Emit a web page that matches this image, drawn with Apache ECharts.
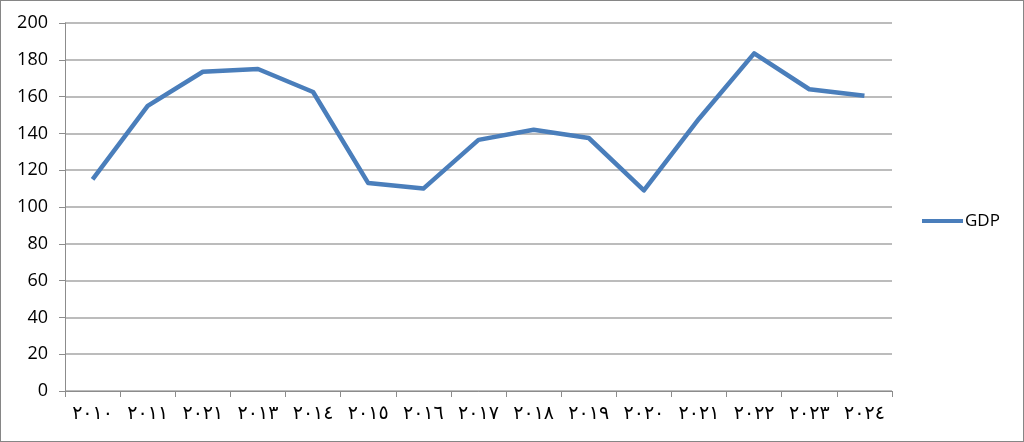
<!DOCTYPE html>
<html><head><meta charset="utf-8">
<script src="https://cdn.jsdelivr.net/npm/echarts@6/dist/echarts.min.js"></script>
<style>
html,body{margin:0;padding:0;background:#fff;}
#c{width:1024px;height:442px;box-sizing:border-box;border:1px solid #868686;}
</style></head>
<body><div id="c"></div>
<script>
const categories = ['٢٠١٠','٢٠١١','٢٠٢١','٢٠١٣','٢٠١٤','٢٠١٥','٢٠١٦','٢٠١٧','٢٠١٨','٢٠١٩','٢٠٢٠','٢٠٢١','٢٠٢٢','٢٠٢٣','٢٠٢٤'];
const gdp = [115, 155, 173.5, 175, 162.5, 113, 110, 136.5, 142, 137.5, 109, 148, 183.5, 164, 160.5];
const seriesName = 'GDP';

const chart = echarts.init(document.getElementById('c'));
chart.setOption({
  animation:false,
  grid:{left:64,right:131,top:22,bottom:50,containLabel:false},
  legend:{left:916,top:'middle',orient:'vertical',icon:'rect',itemWidth:41,itemHeight:4,itemGap:4,
    textStyle:{fontFamily:'Open Sans, Noto Sans, sans-serif',fontSize:17,color:'#000',padding:[0,0,0,-3]},data:[seriesName]},
  xAxis:{type:'category',data:categories,boundaryGap:true,
    axisLine:{lineStyle:{color:'#8c8c8c',width:1}},
    axisTick:{show:true,alignWithLabel:false,length:6,lineStyle:{color:'#8c8c8c'}},
    axisLabel:{fontFamily:'DejaVu Serif, DejaVu Sans, serif',fontSize:19,color:'#000',margin:14,interval:0}},
  yAxis:{type:'value',min:0,max:200,interval:20,
    axisLine:{show:true,lineStyle:{color:'#8c8c8c',width:1}},
    axisTick:{show:true,length:6,lineStyle:{color:'#8c8c8c'}},
    splitLine:{lineStyle:{color:'#a6a6a6',width:1.5}},
    axisLabel:{fontFamily:'Open Sans, Noto Sans, sans-serif',fontSize:18,color:'#000',margin:17}},
  series:[{name:seriesName,type:'line',data:gdp,symbol:'none',
    lineStyle:{color:'#4a7ebb',width:4.5,join:'round'},itemStyle:{color:'#4a7ebb'}}]
});
</script></body></html>
